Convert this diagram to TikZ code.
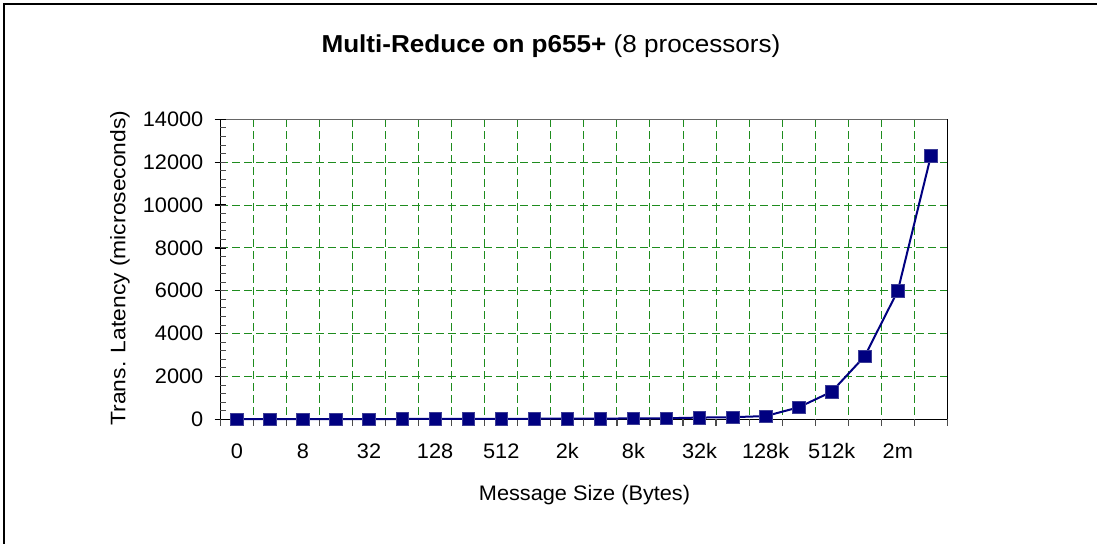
\documentclass[tikz,border=0pt]{standalone}
\usepackage{fontspec}
\setmainfont{Liberation Sans}
\begin{document}
\begin{tikzpicture}[x=1pt,y=-1pt,
  gridline/.style={draw={rgb,255:red,30;green,140;blue,30},line width=1pt,dash pattern=on 8pt off 4pt},
  datamark/.style={rectangle,fill={rgb,255:red,0;green,0;blue,128},draw={rgb,255:red,60;green,60;blue,150},line width=0.6pt,minimum size=12.5pt,inner sep=0pt},
  dataline/.style={draw={rgb,255:red,0;green,0;blue,128},line width=2pt},
  ticklab/.style={font=\fontsize{21}{25}\selectfont,inner sep=0pt,xscale=1.035},
  axlab/.style={font=\fontsize{21}{25}\selectfont,inner sep=0pt},
  titlelab/.style={font=\fontsize{24.5}{28}\selectfont,inner sep=0pt,xscale=1.065}
]
\useasboundingbox (0,0) rectangle (1097,544);
\fill[white] (0,0) rectangle (1097,544);
% outer frame (only top and left visible)
\draw[line width=2pt] (3,4) -- (1097,4);
\draw[line width=2pt] (4,3) -- (4,544);
% plot area geometry
\def\pl{220.3}\def\pr{947.5}\def\pt{119.3}\def\pb{419.3}
\def\cw{33.05}
% horizontal grid
\foreach \v in {2000,4000,...,12000}{
  \draw[gridline] (\pl,{\pb-\v*0.0214286}) -- (\pr,{\pb-\v*0.0214286});
}
% vertical grid
\foreach \i in {1,...,21}{
  \draw[gridline] ({\pl+\i*\cw},\pt) -- ({\pl+\i*\cw},\pb);
}
% plot border
\draw[line width=1.5pt,gray!80!black] (\pl,\pt) -- (\pr,\pt);
\draw[line width=1.5pt,black] (\pr,\pt) -- (\pr,\pb);
% axes
\draw[line width=1.5pt] (\pl,\pt) -- (\pl,\pb) -- (\pr,\pb);
% y ticks
\foreach \v in {0,2000,...,14000}{
  \draw[line width=1.2pt] (214.5,{\pb-\v*0.0214286}) -- (226,{\pb-\v*0.0214286});
  \node[ticklab,anchor=east] (yl\v) at (203.5,{\pb-\v*0.0214286}) {\v};
}
\foreach \v in {400,800,...,13600}{
  \draw[line width=1pt,gray!60!black] (\pl,{\pb-\v*0.0214286}) -- (226,{\pb-\v*0.0214286});
}
% x ticks
\foreach \i in {0,...,22}{
  \draw[line width=1.2pt,gray!60!black] ({\pl+\i*\cw},\pb) -- ({\pl+\i*\cw},426);
}
% x tick labels
\foreach \lab [count=\k from 0] in {0,8,32,128,512,2k,8k,32k,128k,512k,2m}{
  \node[ticklab,anchor=base] (xl\k) at ({\pl+(2*\k+0.5)*\cw},458) {\lab};
}
% data
\foreach \val [count=\i from 0] in {5,8,10,10,12,14,16,18,20,25,30,35,40,50,80,100,150,560,1290,2950,6000,12300}{
  \coordinate (c\i) at ({\pl+(\i+0.5)*\cw},{\pb-\val*0.0214286});
}
\draw[dataline,line join=round] (c0) \foreach \i in {1,...,21}{ -- (c\i)};
\foreach \i in {0,...,21}{
  \node[datamark] (m\i) at (c\i) {};
}
% titles
\node[titlelab,anchor=base] (title) at (551,52) {\textbf{Multi-Reduce on p655+} (8 processors)};
\node[axlab,anchor=base,xscale=1.034] (xtitle) at (584.5,500) {Message Size (Bytes)};
\node[axlab,rotate=90,xscale=1.088] (ytitle) at (120,268) {Trans. Latency (microseconds)};
\end{tikzpicture}
\end{document}
